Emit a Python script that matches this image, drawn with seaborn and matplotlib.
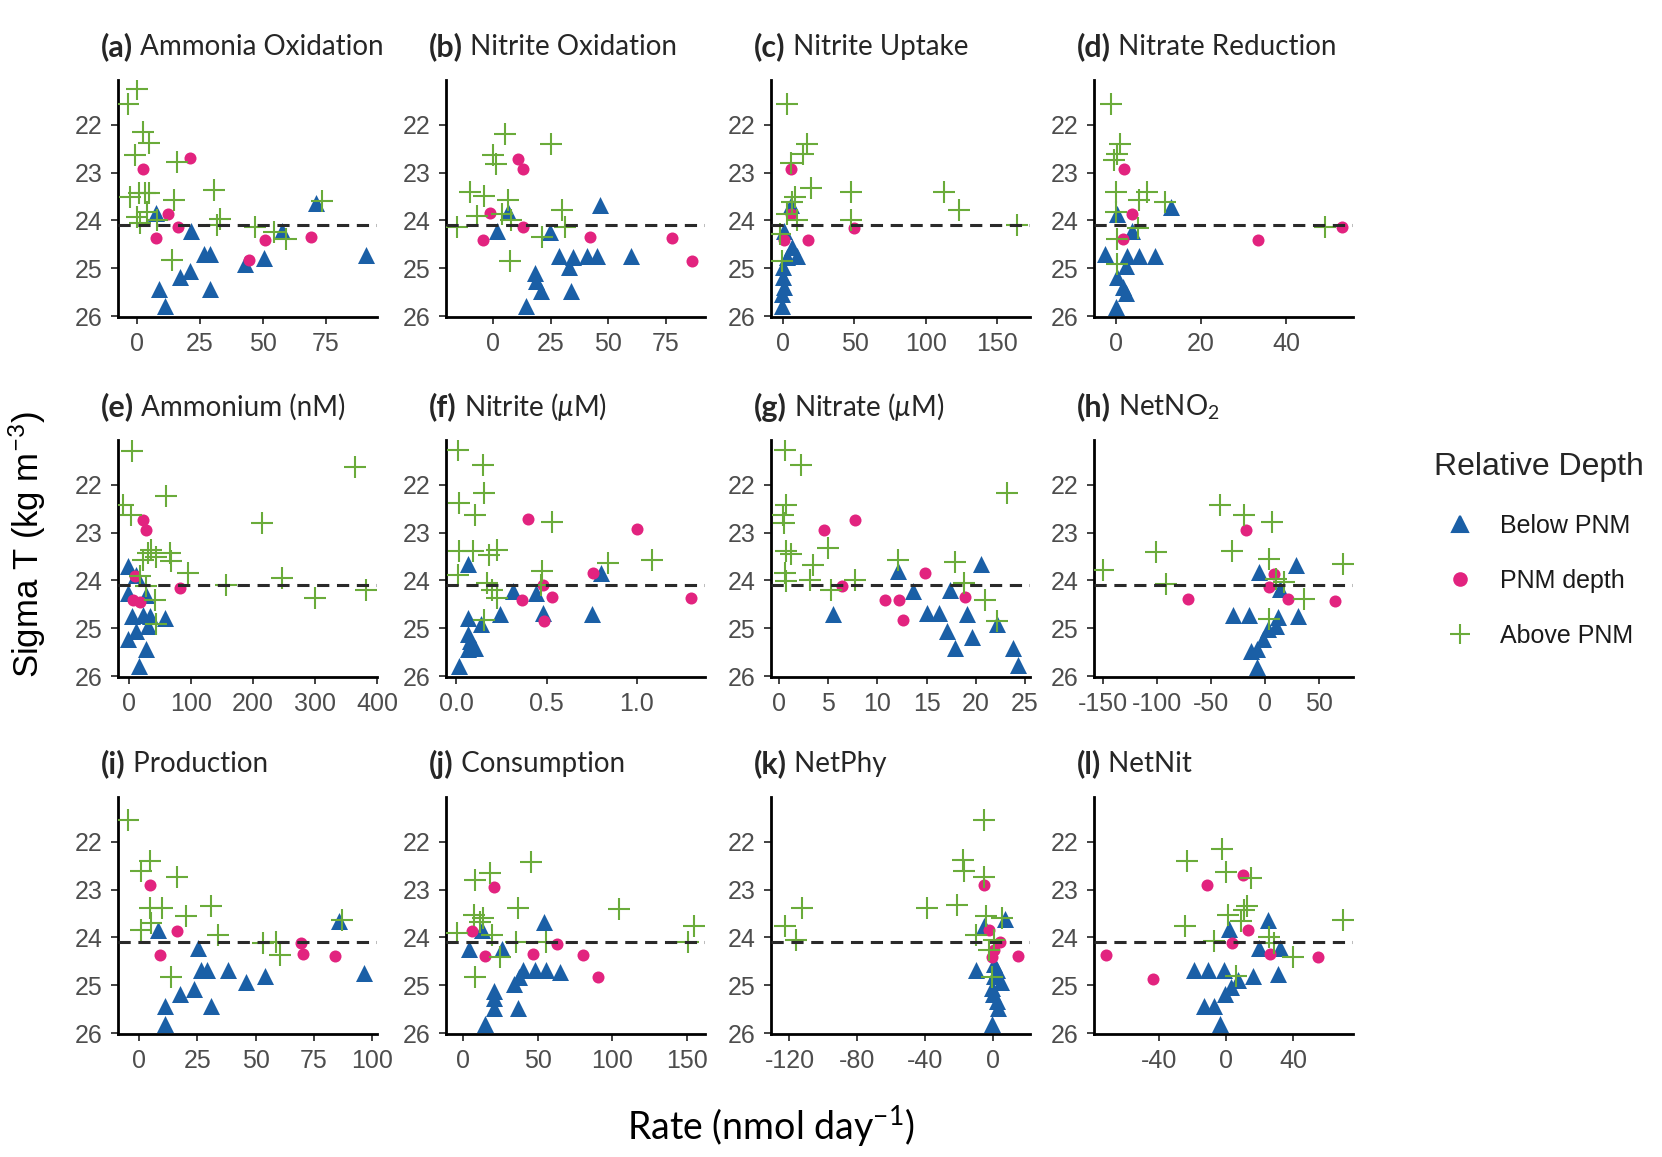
import matplotlib
matplotlib.use('Agg')
import matplotlib.pyplot as plt
import seaborn as sns
import pandas as pd
from matplotlib.lines import Line2D

# (rate, sigma T) pairs, split by relative depth
amox_below = [(7.5, 23.84), (21.6, 24.22), (26.5, 24.71), (29.1, 24.71), (43.0, 24.92), (50.3, 24.78),
              (57.4, 24.22), (71.0, 23.64), (90.7, 24.73), (20.9, 25.06), (17.2, 25.18), (8.7, 25.43),
              (28.9, 25.43), (11.0, 25.78)]
amox_pnm = [(2.4, 22.93), (21.2, 22.70), (12.3, 23.87), (16.3, 24.13), (7.4, 24.36), (50.7, 24.41),
            (68.9, 24.34), (44.4, 24.83)]
amox_above = [(0.0, 21.25), (-3.6, 21.56), (2.6, 22.14), (4.6, 22.38), (-0.7, 22.63), (15.9, 22.77),
              (30.5, 23.36), (0.7, 23.43), (3.3, 23.42), (4.6, 23.43), (14.6, 23.57), (-2.6, 23.50),
              (0.0, 23.92), (7.9, 23.99), (33.0, 23.96), (31.8, 24.10), (47.0, 24.13), (54.3, 24.24),
              (59.0, 24.38), (73.5, 23.60), (13.9, 24.83), (4.0, 23.82), (1.3, 24.06)]

nitox_below = [(6.2, 23.82), (1.6, 24.21), (24.5, 24.25), (46.3, 23.68), (28.4, 24.74), (33.0, 24.98),
               (34.9, 24.77), (40.6, 24.74), (45.2, 24.74), (60.1, 24.74), (18.3, 25.09), (18.8, 25.26),
               (20.6, 25.47), (33.7, 25.47), (14.2, 25.79)]
nitox_pnm = [(10.8, 22.72), (13.1, 22.93), (-1.4, 23.85), (-4.6, 24.41), (13.1, 24.13), (42.2, 24.35),
             (78.0, 24.36), (86.5, 24.84)]
nitox_above = [(5.0, 22.18), (25.2, 22.40), (0.0, 22.63), (1.1, 22.81), (-10.3, 23.40), (-4.1, 23.49),
               (6.2, 23.58), (-6.9, 23.90), (-16.0, 24.13), (3.9, 23.86), (7.8, 24.00), (29.8, 23.79),
               (31.4, 24.14), (21.1, 24.35), (7.3, 24.84)]

nup_below = [(5.2, 23.68), (0.7, 24.21), (6.3, 24.56), (10.0, 24.74), (2.6, 24.77), (-0.4, 24.98),
             (0.0, 25.19), (0.7, 25.40), (-1.1, 25.54), (-1.1, 25.79)]
nup_pnm = [(5.6, 22.93), (5.6, 23.86), (0.7, 24.41), (17.4, 24.41), (50.0, 24.16)]
nup_above = [(2.6, 21.56), (16.7, 22.40), (13.7, 22.61), (5.6, 22.79), (19.3, 23.33), (8.1, 23.51),
             (6.3, 23.61), (2.6, 23.86), (-1.9, 24.28), (-1.1, 24.84), (10.0, 24.00), (47.4, 23.40),
             (112.5, 23.40), (122.9, 23.79), (163.8, 24.10), (47.4, 24.00)]

nred_below = [(13.0, 23.72), (0.4, 23.86), (3.9, 24.21), (-2.5, 24.70), (2.7, 24.74), (5.4, 24.74),
              (9.2, 24.74), (2.3, 24.95), (0.4, 25.19), (1.6, 25.40), (2.3, 25.51), (0.1, 25.81)]
nred_pnm = [(2.0, 22.93), (3.9, 23.86), (1.6, 24.39), (33.3, 24.41), (53.2, 24.14)]
nred_above = [(-1.1, 21.56), (1.0, 22.40), (0.4, 22.60), (-0.3, 22.74), (0.1, 23.40), (7.3, 23.40),
              (5.4, 23.58), (11.5, 23.61), (0.1, 23.82), (5.2, 24.16), (0.4, 24.39), (0.4, 24.91),
              (49.1, 24.13)]

nh4_below = [(-1.6, 23.69), (11.9, 23.88), (-1.6, 24.26), (28.0, 24.30), (5.4, 24.75), (22.6, 24.72),
             (33.4, 24.75), (57.7, 24.78), (30.7, 24.96), (11.9, 25.06), (-1.6, 25.23), (28.0, 25.44),
             (16.2, 25.79)]
nh4_pnm = [(22.6, 22.73), (28.0, 22.94), (9.2, 23.91), (82.0, 24.16), (6.5, 24.40), (17.0, 24.44)]
nh4_above = [(5.4, 21.30), (365.0, 21.62), (59.0, 22.24), (-9.7, 22.42), (3.8, 22.63), (214.0, 22.80),
             (36.0, 23.36), (44.0, 23.50), (66.0, 23.43), (22.6, 23.57), (68.5, 23.60), (95.0, 23.84),
             (30.7, 23.43), (157.0, 24.09), (246.0, 23.95), (300.0, 24.37), (383.0, 24.19),
             (17.0, 23.91), (41.5, 24.40), (44.0, 24.92), (28.0, 24.12)]

no2_below = [(0.064, 23.66), (0.804, 23.84), (0.313, 24.21), (0.439, 24.26), (0.48, 24.68), (0.751, 24.71),
             (0.24, 24.71), (0.064, 24.78), (0.137, 24.92), (0.064, 25.13), (0.073, 25.27), (0.102, 25.41),
             (0.064, 25.44), (0.012, 25.79)]
no2_pnm = [(0.395, 22.71), (1.0, 22.92), (0.757, 23.84), (0.363, 24.40), (0.532, 24.35), (0.48, 24.09),
           (1.301, 24.37), (0.488, 24.84)]
no2_above = [(0.006, 21.27), (0.146, 21.58), (0.152, 22.17), (0.012, 22.38), (0.102, 22.63), (0.532, 22.77),
             (0.225, 23.36), (0.012, 23.39), (0.094, 23.39), (0.181, 23.46), (0.839, 23.63), (1.088, 23.57),
             (0.006, 23.88), (0.474, 23.81), (0.167, 24.05), (0.196, 24.19), (0.225, 24.37), (0.468, 24.09),
             (0.152, 24.82)]

no3_below = [(5.5, 24.71), (12.1, 23.80), (13.6, 24.23), (15.0, 24.68), (16.3, 24.68), (17.1, 25.06),
             (17.9, 25.41), (17.4, 24.20), (19.1, 24.71), (19.6, 25.18), (20.5, 23.66), (22.1, 24.92),
             (23.8, 25.41), (24.3, 25.76)]
no3_pnm = [(4.6, 22.94), (7.7, 22.73), (6.4, 24.12), (10.8, 24.40), (12.2, 24.40), (14.8, 23.84),
           (12.6, 24.82), (18.9, 24.35)]
no3_above = [(0.6, 21.27), (2.2, 21.58), (0.7, 22.42), (0.4, 22.63), (0.5, 22.80), (0.7, 23.39),
             (1.2, 23.45), (0.6, 23.84), (3.5, 23.67), (0.7, 24.02), (3.2, 23.98), (5.3, 24.19),
             (23.2, 22.17), (5.0, 23.32), (12.1, 23.57), (17.9, 23.61), (7.7, 23.98), (18.8, 24.05),
             (20.9, 24.40), (22.1, 24.85)]

netno2_below = [(-5.5, 23.82), (29.1, 23.67), (-29.1, 24.72), (-14.5, 24.72), (14.5, 24.18), (12.7, 24.77),
                (30.9, 24.74), (10.9, 24.95), (2.9, 25.02), (-1.8, 25.23), (-7.3, 25.44), (-12.7, 25.47),
                (-7.3, 25.82)]
netno2_pnm = [(-17.5, 22.95), (-70.9, 24.39), (9.1, 23.86), (4.4, 24.14), (21.8, 24.39), (65.5, 24.42)]
netno2_above = [(-41.8, 22.41), (-18.9, 22.63), (6.5, 22.77), (-100.7, 23.40), (-29.8, 23.38),
                (-149.8, 23.79), (-90.9, 24.07), (3.6, 23.54), (10.9, 23.96), (17.5, 24.04), (36.4, 24.39),
                (72.7, 23.65), (3.6, 24.81)]

prod_below = [(8.2, 23.84), (25.4, 24.23), (26.3, 24.68), (29.0, 24.68), (38.1, 24.68), (46.0, 24.94),
              (53.9, 24.80), (85.7, 23.66), (96.6, 24.75), (23.4, 25.08), (17.7, 25.19), (10.9, 25.43),
              (30.8, 25.43), (10.9, 25.81)]
prod_pnm = [(4.8, 22.91), (16.1, 23.86), (9.1, 24.37), (69.4, 24.11), (70.3, 24.35), (84.1, 24.39)]
prod_above = [(-5.0, 21.54), (4.5, 22.39), (0.7, 22.60), (16.1, 22.74), (4.8, 23.38), (9.8, 23.38),
              (30.8, 23.35), (20.0, 23.56), (0.7, 23.84), (5.2, 23.70), (33.6, 23.95), (53.3, 24.12),
              (58.5, 24.09), (60.3, 24.37), (86.8, 23.63), (13.6, 24.83)]

cons_below = [(12.4, 23.84), (4.1, 24.25), (26.3, 24.25), (54.3, 23.67), (40.0, 24.68), (48.3, 24.68),
              (55.5, 24.68), (65.1, 24.72), (37.6, 24.82), (34.0, 24.98), (20.8, 25.12), (20.8, 25.26),
              (20.8, 25.47), (36.4, 25.47), (14.9, 25.82)]
cons_pnm = [(20.8, 22.94), (5.7, 23.86), (14.8, 24.39), (47.1, 24.35), (62.7, 24.13), (80.6, 24.37),
            (90.2, 24.83)]
cons_above = [(45.5, 22.42), (17.7, 22.66), (8.1, 22.80), (7.2, 23.53), (13.6, 23.60), (36.4, 23.39),
              (104.5, 23.41), (-4.3, 23.90), (19.6, 23.95), (35.2, 24.09), (55.5, 24.09), (24.4, 24.40),
              (8.1, 24.82), (150.7, 24.09), (154.8, 23.77), (11.0, 23.67)]

netphy_below = [(-5.3, 23.77), (7.2, 23.61), (-10.0, 24.68), (2.5, 24.68), (0.9, 24.80), (4.7, 24.94),
                (0.0, 25.19), (2.5, 25.33), (3.1, 25.47), (-0.6, 25.82), (-0.6, 25.06), (0.9, 24.55)]
netphy_pnm = [(-5.3, 22.91), (-2.2, 23.84), (4.1, 24.09), (-0.6, 24.41), (0.9, 24.27), (15.0, 24.39)]
netphy_above = [(-122.5, 23.77), (-112.5, 23.39), (-116.2, 24.05), (-5.3, 21.54), (-17.8, 22.37),
                (-16.9, 22.60), (-5.3, 22.74), (-20.9, 23.33), (-38.8, 23.38), (-3.8, 23.54), (5.6, 23.59),
                (-10.0, 23.95), (0.9, 24.05), (-0.6, 24.83), (-2.2, 24.27)]

netnit_below = [(1.9, 23.83), (25.2, 23.63), (19.4, 24.21), (32.3, 24.23), (-19.4, 24.68), (-11.0, 24.68),
                (-1.3, 24.68), (16.1, 24.80), (7.1, 24.89), (31.0, 24.77), (2.6, 25.04), (-0.6, 25.19),
                (-13.5, 25.43), (-7.1, 25.43), (-3.9, 25.81)]
netnit_pnm = [(-11.3, 22.91), (10.0, 22.69), (13.2, 23.84), (3.2, 24.12), (26.1, 24.35), (54.8, 24.41),
              (-71.6, 24.37), (-43.5, 24.87)]
netnit_above = [(-2.3, 22.14), (-23.2, 22.39), (0.0, 22.64), (14.8, 22.76), (10.6, 23.42), (1.0, 23.52),
                (12.3, 23.35), (-24.8, 23.77), (69.7, 23.63), (-7.1, 24.07), (25.8, 24.00), (28.4, 24.12),
                (39.7, 24.41), (5.8, 24.80), (9.0, 23.66)]

pnm_sigma = 24.1
depth_labels = ['Below PNM', 'PNM depth', 'Above PNM']

# letter, title, groups, x limits, x ticks
panels = [
    ('(a)', 'Ammonia Oxidation', (amox_below, amox_pnm, amox_above), (-7.5, 95.2), [0, 25, 50, 75]),
    ('(b)', 'Nitrite Oxidation', (nitox_below, nitox_pnm, nitox_above), (-20.6, 92.2), [0, 25, 50, 75]),
    ('(c)', 'Nitrite Uptake', (nup_below, nup_pnm, nup_above), (-8.5, 173), [0, 50, 100, 150]),
    ('(d)', 'Nitrate Reduction', (nred_below, nred_pnm, nred_above), (-5.1, 55.7), [0, 20, 40]),
    ('(e)', 'Ammonium (nM)', (nh4_below, nh4_pnm, nh4_above), (-17.8, 400), [0, 100, 200, 300, 400]),
    ('(f)', r'Nitrite ($\mu$M)', (no2_below, no2_pnm, no2_above), (-0.058, 1.38), [0.0, 0.5, 1.0]),
    ('(g)', r'Nitrate ($\mu$M)', (no3_below, no3_pnm, no3_above), (-0.8, 25.5), [0, 5, 10, 15, 20, 25]),
    ('(h)', r'NetNO$_2$', (netno2_below, netno2_pnm, netno2_above), (-158, 81.8), [-150, -100, -50, 0, 50]),
    ('(i)', 'Production', (prod_below, prod_pnm, prod_above), (-9.1, 102), [0, 25, 50, 75, 100]),
    ('(j)', 'Consumption', (cons_below, cons_pnm, cons_above), (-11.5, 162), [0, 50, 100, 150]),
    ('(k)', 'NetPhy', (netphy_below, netphy_pnm, netphy_above), (-130.9, 21.9), [-120, -80, -40, 0]),
    ('(l)', 'NetNit', (netnit_below, netnit_pnm, netnit_above), (-79, 75.8), [-40, 0, 40]),
]

colors = ['#1a5fa6', '#e2237f', '#6aab3a']
markers = ['^', 'o', '+']
sizes = [150, 75, 230]

sns.set_theme(style='white')
plt.rcParams['font.family'] = ['Liberation Sans', 'DejaVu Sans']
plt.rcParams['axes.unicode_minus'] = False
plt.rcParams['mathtext.fontset'] = 'custom'
plt.rcParams['mathtext.rm'] = 'Lato'
plt.rcParams['mathtext.it'] = 'Lato:italic'
plt.rcParams['mathtext.bf'] = 'Lato:bold'

W, H = 1662, 1157
fig = plt.figure(figsize=(W / 100, H / 100), dpi=100)

col_left = [118, 446, 771, 1094]
row_top = [80, 440, 797]
ax_w, ax_h = 259, 237
title_font = ['Lato', 'DejaVu Sans']

for i, (letter, title, groups, xlim, xticks) in enumerate(panels):
    r, c = divmod(i, 4)
    ax = fig.add_axes([col_left[c] / W, 1 - (row_top[r] + ax_h) / H, ax_w / W, ax_h / H])
    for pts, col, mk, sz in zip(groups, colors, markers, sizes):
        df = pd.DataFrame(pts, columns=['rate', 'sigma'])
        lw = 1.5 if mk == '+' else 0
        sns.scatterplot(data=df, x='rate', y='sigma', ax=ax, marker=mk, color=col, s=sz,
                        linewidth=lw, legend=False, zorder=3)
    ax.axhline(pnm_sigma, color='#2a2a2a', lw=2.2, dashes=(4, 2.5), zorder=4)
    ax.set_xlim(*xlim)
    ax.set_ylim(26.02, 21.06)
    ax.set_xticks(xticks)
    ax.set_yticks([22, 23, 24, 25, 26])
    ax.set_xlabel('')
    ax.set_ylabel('')
    for s in ['top', 'right']:
        ax.spines[s].set_visible(False)
    for s in ['left', 'bottom']:
        ax.spines[s].set_color('black')
        ax.spines[s].set_linewidth(2.0)
    ax.tick_params(bottom=True, left=True, direction='out', length=5, width=1.3, color='#333333',
                   labelcolor='#4d4d4d', labelsize=18, pad=6)
    # panel title: bold letter followed by regular name
    t1 = ax.annotate(letter, xy=(0, 1), xycoords='axes fraction', xytext=(-17, 33),
                     textcoords='offset pixels', ha='left', va='center', fontsize=22,
                     fontweight='bold', family=title_font)
    ax.annotate(' ' + title, xy=(1, 0.5), xycoords=t1, ha='left', va='center', fontsize=20,
                family=title_font)

fig.text(27 / W, 1 - 545 / H, 'Sigma T (kg m$^{-3}$)', rotation=90, ha='center', va='center',
         fontsize=25, color='black')
fig.text(771 / W, 1 - 1126 / H, 'Rate (nmol day$^{-1}$)', ha='center', va='center', fontsize=27,
         family=title_font, color='black')

handles = [Line2D([], [], marker=m, color=col, linestyle='', markersize=ms, markeredgewidth=1.5)
           for m, col, ms in zip(markers, colors, [12, 9, 15])]
leg = fig.legend(handles, depth_labels, title='Relative Depth', loc='upper left',
                 bbox_to_anchor=(1412 / W, 1 - 430 / H), frameon=False, fontsize=18,
                 title_fontsize=23, labelspacing=1.25, handletextpad=0.6, alignment='left')
for t in leg.get_texts():
    t.set_color('#1a1a1a')

fig.savefig('out.png', dpi=100, facecolor='white')
